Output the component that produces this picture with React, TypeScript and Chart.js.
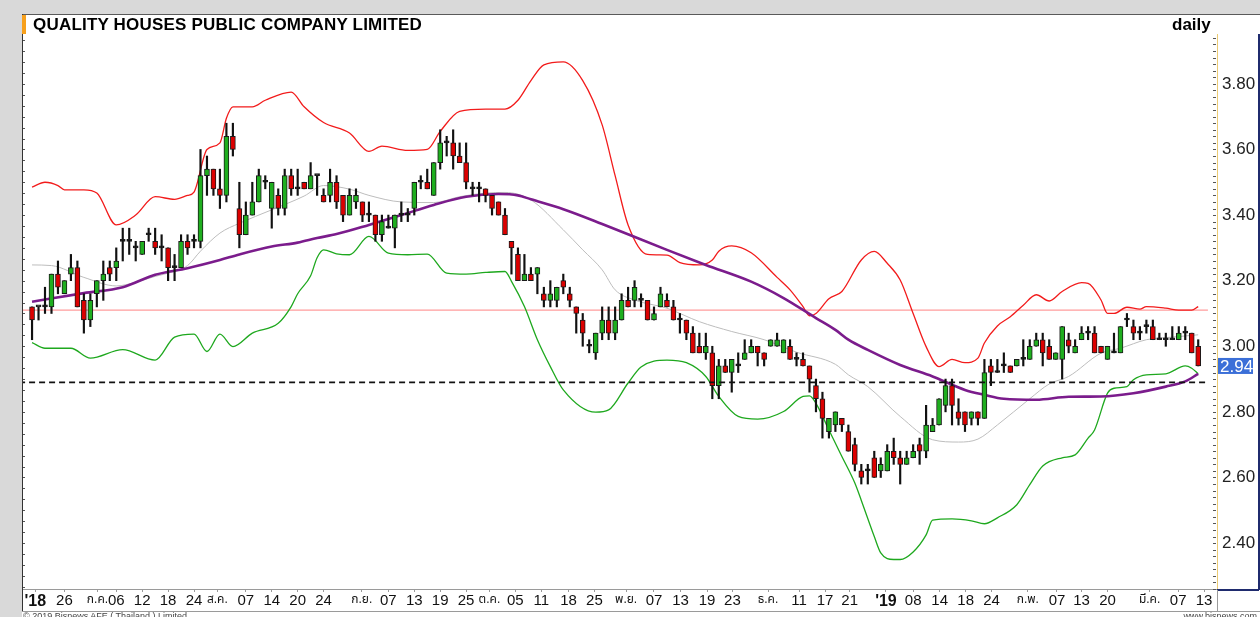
import React, { useEffect, useRef } from 'react';
import { Chart, registerables } from 'chart.js';

Chart.register(...registerables);

const FONT = "'Liberation Sans', Arial, Helvetica, 'Noto Sans Thai', 'Noto Sans', 'DejaVu Sans', sans-serif";

const TITLE = 'QUALITY HOUSES PUBLIC COMPANY LIMITED';
const PERIOD = 'daily';

// Daily OHLC (index 0 = first session shown)
const OPEN = [
  3.12, 3.12, 3.12, 3.12, 3.22, 3.16, 3.22, 3.24, 3.14, 3.08,
  3.16, 3.20, 3.24, 3.24, 3.32, 3.32, 3.30, 3.28, 3.34, 3.32,
  3.30, 3.30, 3.24, 3.24, 3.32, 3.32, 3.32, 3.52, 3.54, 3.48,
  3.46, 3.64, 3.42, 3.34, 3.40, 3.44, 3.50, 3.42, 3.46, 3.42,
  3.52, 3.48, 3.50, 3.48, 3.52, 3.46, 3.46, 3.50, 3.46, 3.40,
  3.44, 3.44, 3.40, 3.40, 3.34, 3.36, 3.36, 3.40, 3.40, 3.42,
  3.50, 3.50, 3.46, 3.56, 3.62, 3.62, 3.58, 3.56, 3.48, 3.48,
  3.48, 3.46, 3.44, 3.40, 3.32, 3.28, 3.20, 3.22, 3.22, 3.16,
  3.14, 3.14, 3.20, 3.16, 3.12, 3.08, 3.00, 2.98, 3.04, 3.08,
  3.04, 3.08, 3.14, 3.14, 3.14, 3.14, 3.08, 3.12, 3.14, 3.12,
  3.08, 3.08, 3.04, 3.00, 2.98, 2.98, 2.88, 2.94, 2.92, 2.94,
  2.96, 2.98, 3.00, 2.98, 3.00, 3.00, 2.98, 3.00, 2.96, 2.96,
  2.94, 2.88, 2.84, 2.74, 2.76, 2.78, 2.74, 2.70, 2.62, 2.62,
  2.66, 2.62, 2.62, 2.68, 2.66, 2.64, 2.66, 2.70, 2.68, 2.74,
  2.76, 2.82, 2.88, 2.80, 2.80, 2.78, 2.80, 2.78, 2.94, 2.92,
  2.94, 2.94, 2.94, 2.96, 2.96, 3.00, 3.02, 3.00, 2.96, 2.96,
  3.02, 2.98, 3.02, 3.04, 3.04, 3.00, 2.96, 2.98, 2.98, 3.08,
  3.06, 3.04, 3.06, 3.06, 3.02, 3.02, 3.02, 3.02, 3.04, 3.04,
  3.00,
];
const HIGH = [
  3.12, 3.12, 3.18, 3.22, 3.26, 3.20, 3.28, 3.26, 3.16, 3.16,
  3.20, 3.26, 3.26, 3.30, 3.36, 3.36, 3.32, 3.32, 3.36, 3.36,
  3.34, 3.30, 3.28, 3.34, 3.34, 3.34, 3.60, 3.58, 3.54, 3.54,
  3.68, 3.68, 3.50, 3.44, 3.50, 3.54, 3.52, 3.50, 3.48, 3.54,
  3.54, 3.54, 3.50, 3.56, 3.52, 3.48, 3.54, 3.52, 3.46, 3.48,
  3.48, 3.44, 3.44, 3.40, 3.40, 3.40, 3.40, 3.44, 3.42, 3.50,
  3.52, 3.54, 3.56, 3.66, 3.64, 3.66, 3.62, 3.62, 3.50, 3.50,
  3.48, 3.46, 3.44, 3.42, 3.32, 3.30, 3.28, 3.24, 3.24, 3.18,
  3.20, 3.18, 3.22, 3.18, 3.12, 3.10, 3.02, 3.04, 3.12, 3.12,
  3.12, 3.16, 3.18, 3.20, 3.16, 3.14, 3.12, 3.18, 3.16, 3.14,
  3.10, 3.08, 3.06, 3.04, 3.04, 3.00, 2.96, 2.96, 2.96, 2.98,
  3.02, 3.02, 3.00, 2.98, 3.02, 3.04, 3.02, 3.02, 2.98, 2.98,
  2.94, 2.90, 2.86, 2.78, 2.80, 2.78, 2.76, 2.72, 2.64, 2.64,
  2.68, 2.66, 2.70, 2.72, 2.68, 2.68, 2.70, 2.72, 2.82, 2.78,
  2.84, 2.90, 2.90, 2.84, 2.80, 2.80, 2.80, 2.96, 2.96, 2.96,
  2.98, 2.94, 2.96, 3.02, 3.02, 3.04, 3.04, 3.02, 2.98, 3.06,
  3.04, 3.02, 3.06, 3.06, 3.06, 3.00, 3.00, 3.04, 3.06, 3.10,
  3.08, 3.06, 3.08, 3.08, 3.04, 3.04, 3.06, 3.06, 3.06, 3.04,
  3.02,
];
const LOW = [
  3.02, 3.08, 3.10, 3.10, 3.16, 3.16, 3.20, 3.12, 3.04, 3.06,
  3.12, 3.14, 3.20, 3.20, 3.26, 3.28, 3.26, 3.28, 3.32, 3.28,
  3.26, 3.20, 3.20, 3.24, 3.28, 3.30, 3.30, 3.46, 3.46, 3.42,
  3.44, 3.58, 3.30, 3.34, 3.40, 3.44, 3.48, 3.36, 3.40, 3.40,
  3.46, 3.46, 3.48, 3.48, 3.46, 3.44, 3.44, 3.42, 3.38, 3.40,
  3.42, 3.38, 3.38, 3.32, 3.32, 3.36, 3.30, 3.38, 3.38, 3.40,
  3.48, 3.48, 3.46, 3.54, 3.58, 3.54, 3.56, 3.48, 3.46, 3.44,
  3.44, 3.40, 3.40, 3.34, 3.22, 3.20, 3.20, 3.20, 3.16, 3.12,
  3.12, 3.12, 3.16, 3.12, 3.04, 3.00, 2.98, 2.96, 3.02, 3.02,
  3.02, 3.08, 3.12, 3.12, 3.12, 3.08, 3.08, 3.12, 3.12, 3.08,
  3.04, 3.02, 2.98, 2.98, 2.96, 2.84, 2.84, 2.92, 2.86, 2.92,
  2.96, 2.98, 2.94, 2.94, 3.00, 3.00, 2.98, 2.96, 2.94, 2.94,
  2.86, 2.80, 2.72, 2.72, 2.74, 2.74, 2.68, 2.62, 2.58, 2.58,
  2.60, 2.60, 2.62, 2.64, 2.58, 2.64, 2.66, 2.64, 2.66, 2.74,
  2.76, 2.80, 2.76, 2.76, 2.74, 2.76, 2.76, 2.78, 2.88, 2.92,
  2.92, 2.92, 2.94, 2.94, 2.96, 3.00, 2.94, 2.96, 2.96, 2.90,
  2.98, 2.98, 3.02, 3.02, 2.98, 2.98, 2.96, 2.98, 2.98, 3.06,
  3.02, 3.02, 3.04, 3.02, 3.02, 3.00, 3.02, 3.02, 3.02, 2.98,
  2.94,
];
const CLOSE = [
  3.08, 3.12, 3.12, 3.22, 3.18, 3.20, 3.24, 3.12, 3.08, 3.14,
  3.20, 3.22, 3.22, 3.26, 3.32, 3.32, 3.30, 3.32, 3.34, 3.30,
  3.30, 3.24, 3.24, 3.32, 3.30, 3.32, 3.52, 3.54, 3.48, 3.46,
  3.64, 3.60, 3.34, 3.40, 3.44, 3.52, 3.50, 3.50, 3.42, 3.52,
  3.48, 3.48, 3.48, 3.52, 3.52, 3.44, 3.50, 3.44, 3.40, 3.46,
  3.46, 3.40, 3.40, 3.34, 3.38, 3.36, 3.40, 3.40, 3.40, 3.50,
  3.50, 3.48, 3.56, 3.62, 3.62, 3.58, 3.56, 3.50, 3.48, 3.48,
  3.46, 3.42, 3.40, 3.34, 3.30, 3.20, 3.22, 3.20, 3.24, 3.14,
  3.16, 3.18, 3.18, 3.14, 3.10, 3.04, 3.00, 3.04, 3.08, 3.04,
  3.08, 3.14, 3.12, 3.18, 3.14, 3.08, 3.10, 3.16, 3.12, 3.08,
  3.08, 3.04, 2.98, 2.98, 3.00, 2.88, 2.94, 2.92, 2.96, 2.94,
  2.98, 3.00, 2.98, 2.96, 3.02, 3.02, 3.02, 2.96, 2.96, 2.94,
  2.90, 2.84, 2.78, 2.78, 2.80, 2.76, 2.68, 2.64, 2.60, 2.62,
  2.60, 2.64, 2.68, 2.66, 2.64, 2.66, 2.68, 2.68, 2.76, 2.76,
  2.84, 2.88, 2.82, 2.78, 2.76, 2.80, 2.78, 2.92, 2.92, 2.92,
  2.94, 2.92, 2.96, 2.96, 3.00, 3.02, 2.98, 2.96, 2.98, 3.06,
  3.00, 3.00, 3.04, 3.04, 2.98, 2.98, 3.00, 2.98, 3.06, 3.08,
  3.04, 3.04, 3.06, 3.02, 3.02, 3.02, 3.02, 3.04, 3.04, 2.98,
  2.94,
];

// Indicator lines: [session index, price]
const MA_LONG = [
  [0, 3.136], [8, 3.162], [14, 3.18], [19, 3.218], [24, 3.238], [29, 3.263], [32, 3.28],
  [37, 3.304], [41, 3.316], [44, 3.33], [47, 3.342], [52, 3.37], [57, 3.40], [62, 3.431],
  [67, 3.456], [72, 3.464], [75, 3.46], [77, 3.448], [82, 3.418], [88, 3.373], [98, 3.294],
  [104, 3.248], [111, 3.197], [116, 3.147], [121, 3.086], [124, 3.05], [126, 3.02],
  [129, 2.989], [134, 2.943], [139, 2.908], [144, 2.867], [147, 2.852], [150, 2.84],
  [155, 2.837], [160, 2.846], [165, 2.847], [170, 2.857], [175, 2.877], [178, 2.893], [180, 2.916],
];
const BB_MID = [
  [0, 3.248], [3, 3.246], [8, 3.21], [13, 3.184], [16, 3.195], [19, 3.213], [21, 3.223],
  [24, 3.246], [26, 3.29], [29, 3.345], [32, 3.375], [37, 3.416], [42, 3.458], [45, 3.49],
  [49, 3.479], [52, 3.46], [57, 3.44], [62, 3.438], [66, 3.456], [70, 3.467], [73, 3.469],
  [77, 3.446], [82, 3.355], [85, 3.294], [88, 3.233], [90, 3.172], [93, 3.141], [98, 3.116],
  [103, 3.075], [108, 3.045], [113, 3.02], [118, 2.982], [124, 2.945], [126, 2.913],
  [129, 2.877], [134, 2.786], [139, 2.715], [143, 2.708], [146, 2.717], [149, 2.76],
  [154, 2.84], [157, 2.885], [160, 2.908], [165, 2.979], [168, 2.994], [172, 3.02],
  [176, 3.028], [180, 3.035],
];
const BB_UPPER = [
  [0, 3.485], [2, 3.50], [4, 3.49], [5, 3.477], [8, 3.477], [10, 3.467], [13, 3.37],
  [16, 3.40], [19, 3.456], [22, 3.448], [24, 3.46], [25, 3.47], [27, 3.60], [29, 3.62],
  [30, 3.695], [31, 3.73], [34, 3.73], [36, 3.75], [40, 3.775], [42, 3.73], [45, 3.682],
  [49, 3.65], [52, 3.594], [54, 3.61], [58, 3.597], [61, 3.60], [63, 3.655], [66, 3.716],
  [70, 3.723], [73, 3.723], [75, 3.75], [77, 3.81], [79, 3.858], [82, 3.867], [85, 3.81],
  [88, 3.675], [90, 3.52], [92, 3.37], [95, 3.28], [98, 3.278], [100, 3.255], [103, 3.248],
  [105, 3.263], [106, 3.29], [108, 3.306], [111, 3.285], [115, 3.21], [117, 3.172],
  [119, 3.121], [120, 3.093], [121, 3.10], [123, 3.145], [125, 3.167], [128, 3.263],
  [130, 3.289], [132, 3.253], [134, 3.202], [136, 3.10], [138, 2.999], [140, 2.938],
  [142, 2.96], [144, 2.95], [146, 2.964], [147, 3.01], [149, 3.062], [151, 3.09],
  [153, 3.125], [155, 3.157], [157, 3.138], [159, 3.167], [162, 3.194], [163, 3.192],
  [165, 3.141], [166, 3.10], [167, 3.10], [169, 3.119], [171, 3.113], [172, 3.121],
  [175, 3.116], [177, 3.11], [179, 3.11], [180, 3.121],
];
const BB_LOWER = [
  [0, 3.011], [2, 2.994], [4, 2.994], [6, 2.994], [9, 2.964], [14, 2.99], [19, 2.958],
  [22, 3.028], [25, 3.037], [27, 2.984], [29, 3.037], [31, 2.999], [34, 3.04], [38, 3.07],
  [40, 3.121], [41, 3.16], [43, 3.215], [44, 3.27], [45, 3.294], [47, 3.282], [49, 3.279],
  [52, 3.335], [55, 3.284], [58, 3.279], [61, 3.281], [64, 3.223], [67, 3.22], [70, 3.225],
  [73, 3.228], [74, 3.198], [76, 3.121], [78, 3.02], [80, 2.938], [82, 2.867], [87, 2.799],
  [89, 2.806], [92, 2.888], [94, 2.937], [98, 2.958], [101, 2.95], [104, 2.908],
  [106, 2.847], [109, 2.786], [112, 2.778], [116, 2.801], [119, 2.847], [120, 2.849],
  [121, 2.826], [123, 2.745], [125, 2.664], [127, 2.583], [128, 2.53], [130, 2.42],
  [131, 2.37], [133, 2.35], [134, 2.35], [136, 2.373], [138, 2.425], [139, 2.47],
  [142, 2.474], [145, 2.468], [147, 2.459], [149, 2.477], [152, 2.517], [154, 2.578],
  [156, 2.635], [159, 2.66], [161, 2.669], [163, 2.72], [164, 2.745], [166, 2.857],
  [167, 2.872], [169, 2.877], [170, 2.898], [172, 2.913], [175, 2.916], [178, 2.94],
  [179, 2.933], [180, 2.916],
];

const REF_LINE = 3.11;      // pink horizontal reference
const SUPPORT_LINE = 2.89;  // dashed black horizontal

const X_TICK_POS = [
  0.5, 5, 10.1, 13, 17, 21, 25, 28.6, 33, 37, 41, 45, 50.9, 55, 59, 63, 67,
  70.6, 74.6, 78.6, 82.8, 86.8, 91.7, 96, 100.1, 104.2, 108.1, 113.6, 118.4, 122.4, 126.2,
  131.8, 136, 140.1, 144.1, 148.1, 153.7, 158.2, 162, 166, 172.5, 176.9, 180.9,
];
const X_TICK_LABELS = [
  "'18", '26', 'ก.ค.', '06', '12', '18', '24', 'ส.ค.', '07', '14', '20', '24',
  'ก.ย.', '07', '13', '19', '25', 'ต.ค.', '05', '11', '18', '25',
  'พ.ย.', '07', '13', '19', '23', 'ธ.ค.', '11', '17', '21',
  "'19", '08', '14', '18', '24', 'ก.พ.', '07', '13', '20', 'มี.ค.', '07', '13',
];
const Y_TICKS = [2.4, 2.6, 2.8, 3.0, 3.2, 3.4, 3.6, 3.8];

const GREEN = '#1fae1f';
const RED = '#dc0000';

const toXY = (arr: number[][]) => arr.map(([x, y]) => ({ x, y }));

const decorPlugin = {
  id: 'decor',
  afterDraw(chart: any) {
    const { ctx, chartArea, scales } = chart;
    const y = scales.y;
    ctx.save();
    ctx.strokeStyle = '#555';
    ctx.lineWidth = 1;
    for (let k = 0; k <= 90; k++) {
      const v = 2.26 + k * 0.02;
      if (v > 3.95) break;
      const py = Math.round(y.getPixelForValue(v)) + 0.5;
      ctx.beginPath();
      ctx.moveTo(chartArea.right - 4, py);
      ctx.lineTo(chartArea.right - 1, py);
      ctx.stroke();
    }
    for (let k = -45; k <= 12; k++) {
      const v = 3.6 + k / 30;
      if (v < 2.26 || v > 3.95) continue;
      const py = Math.round(y.getPixelForValue(v)) + 0.5;
      ctx.beginPath();
      ctx.moveTo(chartArea.left, py);
      ctx.lineTo(chartArea.left + 3, py);
      ctx.stroke();
    }
    const last = CLOSE[CLOSE.length - 1];
    const py = y.getPixelForValue(last);
    ctx.fillStyle = '#3b6fd8';
    ctx.fillRect(chartArea.right + 1, py - 8, 35, 16);
    ctx.fillStyle = '#ffffff';
    ctx.font = `17px ${FONT}`;
    ctx.textBaseline = 'middle';
    ctx.textAlign = 'left';
    ctx.fillText(last.toFixed(2), chartArea.right + 3, py + 1);
    ctx.restore();
  },
};

export default function App() {
  const ref = useRef<HTMLCanvasElement>(null);

  useEffect(() => {
    const canvas = ref.current;
    if (!canvas) return;
    const n = OPEN.length;
    const bodies = OPEN.map((o, i) => ({ x: i, y: [o, CLOSE[i]] }));
    const wicks = OPEN.map((_, i) => ({ x: i, y: [LOW[i], HIGH[i]] }));
    const bodyColors = OPEN.map((o, i) => (CLOSE[i] > o ? GREEN : CLOSE[i] < o ? RED : '#111'));
    const lineEnd = n + 0.5;

    const chart = new Chart(canvas, {
      type: 'bar',
      data: {
        datasets: [
          {
            type: 'line',
            data: [{ x: -2, y: REF_LINE }, { x: lineEnd, y: REF_LINE }],
            borderColor: '#ff9c9c',
            borderWidth: 1.2,
            pointRadius: 0,
            order: 10,
          } as any,
          {
            type: 'line',
            data: toXY(BB_MID),
            borderColor: '#bdbdbd',
            borderWidth: 1,
            pointRadius: 0,
            cubicInterpolationMode: 'monotone',
            order: 9,
          } as any,
          {
            type: 'line',
            data: toXY(BB_UPPER),
            borderColor: '#f21b1b',
            borderWidth: 1.3,
            pointRadius: 0,
            cubicInterpolationMode: 'monotone',
            order: 8,
          } as any,
          {
            type: 'line',
            data: toXY(BB_LOWER),
            borderColor: '#1ea81e',
            borderWidth: 1.3,
            pointRadius: 0,
            cubicInterpolationMode: 'monotone',
            order: 7,
          } as any,
          {
            type: 'line',
            data: toXY(MA_LONG),
            borderColor: '#7b1c8c',
            borderWidth: 2.6,
            pointRadius: 0,
            cubicInterpolationMode: 'monotone',
            order: 6,
          } as any,
          {
            type: 'bar',
            data: wicks,
            backgroundColor: '#111',
            barThickness: 1.5,
            grouped: false,
            order: 5,
          } as any,
          {
            type: 'bar',
            data: bodies,
            backgroundColor: bodyColors,
            borderColor: '#1a1a1a',
            borderWidth: 1,
            borderSkipped: false,
            barThickness: 5,
            minBarLength: 2,
            grouped: false,
            order: 4,
          } as any,
          {
            type: 'line',
            data: [{ x: -2, y: SUPPORT_LINE }, { x: lineEnd, y: SUPPORT_LINE }],
            borderColor: '#111',
            borderWidth: 1.6,
            borderDash: [6, 4],
            pointRadius: 0,
            order: 3,
          } as any,
        ],
      },
      options: {
        animation: false,
        responsive: false,
        devicePixelRatio: 1,
        layout: { padding: 0 },
        plugins: {
          legend: { display: false },
          tooltip: { enabled: false },
          title: { display: false },
        },
        scales: {
          x: {
            type: 'linear',
            min: -1.55,
            max: 182.9,
            offset: false,
            afterBuildTicks: (s: any) => {
              s.ticks = X_TICK_POS.map((v) => ({ value: v }));
            },
            afterFit: (s: any) => {
              s.height = 22;
              s.paddingLeft = 0;
              s.paddingRight = 0;
            },
            ticks: {
              autoSkip: false,
              maxRotation: 0,
              minRotation: 0,
              padding: 0,
              color: '#111',
              callback: (_v: any, idx: number) => X_TICK_LABELS[idx],
              font: (ctx: any) => {
                const l = X_TICK_LABELS[ctx.index] || '';
                if (l.startsWith("'")) return { family: FONT, size: 16, weight: 'bold' };
                if (/^\d+$/.test(l)) return { family: FONT, size: 15 };
                return { family: FONT, size: 12 };
              },
            },
            grid: { display: true, drawOnChartArea: false, drawTicks: true, tickLength: 3, color: '#9a9a9a', offset: false },
            border: { display: true, color: '#9a9a9a' },
          },
          y: {
            type: 'linear',
            position: 'right',
            min: 2.26,
            max: 3.952,
            beginAtZero: false,
            afterBuildTicks: (s: any) => {
              s.ticks = Y_TICKS.map((v) => ({ value: v }));
            },
            afterFit: (s: any) => {
              s.width = 43;
              s.paddingTop = 0;
              s.paddingBottom = 0;
            },
            ticks: {
              padding: 5,
              color: '#222',
              font: { family: FONT, size: 17 },
              callback: (v: any) => Number(v).toFixed(2),
            },
            grid: { display: false, drawOnChartArea: false, drawTicks: false },
            border: { display: true, color: '#eccb72', width: 1 },
          },
        },
      } as any,
      plugins: [decorPlugin],
    });
    return () => chart.destroy();
  }, []);

  return (
    <div
      style={{
        position: 'fixed',
        left: 0,
        top: 0,
        width: 1260,
        height: 617,
        background: '#d9d9d9',
        overflow: 'hidden',
        fontFamily: FONT,
      }}
    >
      <div style={{ position: 'absolute', left: 22, top: 14, width: 1238, height: 603, background: '#fff' }} />
      <canvas
        ref={ref}
        width={1238}
        height={577}
        style={{ position: 'absolute', left: 22, top: 34, width: 1238, height: 577 }}
      />
      <div style={{ position: 'absolute', left: 22, top: 14, width: 1238, height: 1, background: '#5a5a5a' }} />
      <div style={{ position: 'absolute', left: 22, top: 14, width: 1, height: 598, background: '#333' }} />
      <div style={{ position: 'absolute', left: 22, top: 15, width: 4, height: 19, background: '#f7a01c' }} />
      <div style={{ position: 'absolute', left: 22, top: 611, width: 1238, height: 1, background: '#9a9a9a' }} />
      <div style={{ position: 'absolute', left: 1258, top: 34, width: 1.5, height: 556, background: '#1f2b6e' }} />
      <div style={{ position: 'absolute', left: 1217, top: 589, width: 42, height: 1.5, background: '#1f2b6e' }} />
      <div style={{ position: 'absolute', left: 1217, top: 590, width: 1, height: 21, background: '#9a9a9a' }} />
      <div
        style={{
          position: 'absolute',
          left: 33,
          top: 15,
          fontSize: 17,
          fontWeight: 'bold',
          lineHeight: '20px',
          letterSpacing: '0.2px',
          color: '#000',
          whiteSpace: 'nowrap',
        }}
      >
        {TITLE}
      </div>
      <div
        style={{
          position: 'absolute',
          left: 1172,
          top: 15,
          fontSize: 17,
          fontWeight: 'bold',
          lineHeight: '20px',
          color: '#000',
        }}
      >
        {PERIOD}
      </div>
      <div
        style={{
          position: 'absolute',
          left: 23,
          top: 611,
          fontSize: 9,
          lineHeight: '11px',
          color: '#444',
          whiteSpace: 'nowrap',
        }}
      >
        © 2019 Bisnews AFE ( Thailand ) Limited
      </div>
      <div
        style={{
          position: 'absolute',
          right: 3,
          top: 611,
          fontSize: 9,
          lineHeight: '11px',
          color: '#444',
          whiteSpace: 'nowrap',
        }}
      >
        www.bisnews.com
      </div>
    </div>
  );
}
